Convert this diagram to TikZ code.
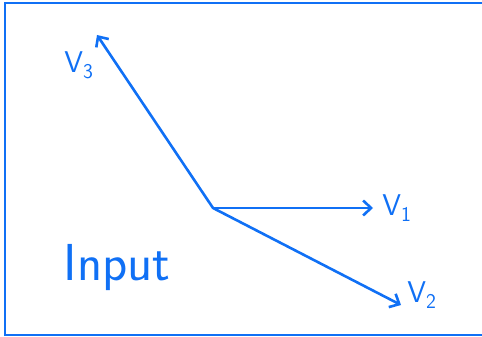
\documentclass[tikz,border=0pt]{standalone}
\usepackage{tikz}
\usepackage{xcolor}
\usetikzlibrary{arrows.meta,positioning}
\definecolor{penblue}{RGB}{16,112,245}

\begin{document}
\begin{tikzpicture}[
    x=1pt, y=-1pt,
    every node/.style={text=penblue,font=\sffamily},
    frame/.style={draw=penblue,line width=1.6pt},
    vec/.style={draw=penblue,line width=2.6pt,line cap=round,
      -{Straight Barb[length=8pt,width=15pt,line width=2.6pt]}},
    vlabel/.style={font=\sffamily\fontsize{30}{32}\selectfont,inner sep=1pt}
  ]
    \useasboundingbox (0,0) rectangle (482,337);
    \draw[frame] (484,3) -- (5,3) -- (5,335) -- (484,335);

    \coordinate (o) at (213,208);
    \coordinate (v1) at (373,208);
    \coordinate (v2) at (401,305);
    \coordinate (v3) at (97,35);

    \draw[vec] (o) -- (v1);
    \draw[vec] (o) -- (v2);
    \draw[vec] (o) -- (v3);

    \node[vlabel] (l1) at (397,208) {V\textsubscript{1}};
    \node[vlabel] (l2) at (422,295) {V\textsubscript{2}};
    \node[vlabel] (l3) at (79,65) {V\textsubscript{3}};

    \node[font=\sffamily\fontsize{52}{56}\selectfont] (input) at (117,268) {Input};
  \end{tikzpicture}
\end{document}
